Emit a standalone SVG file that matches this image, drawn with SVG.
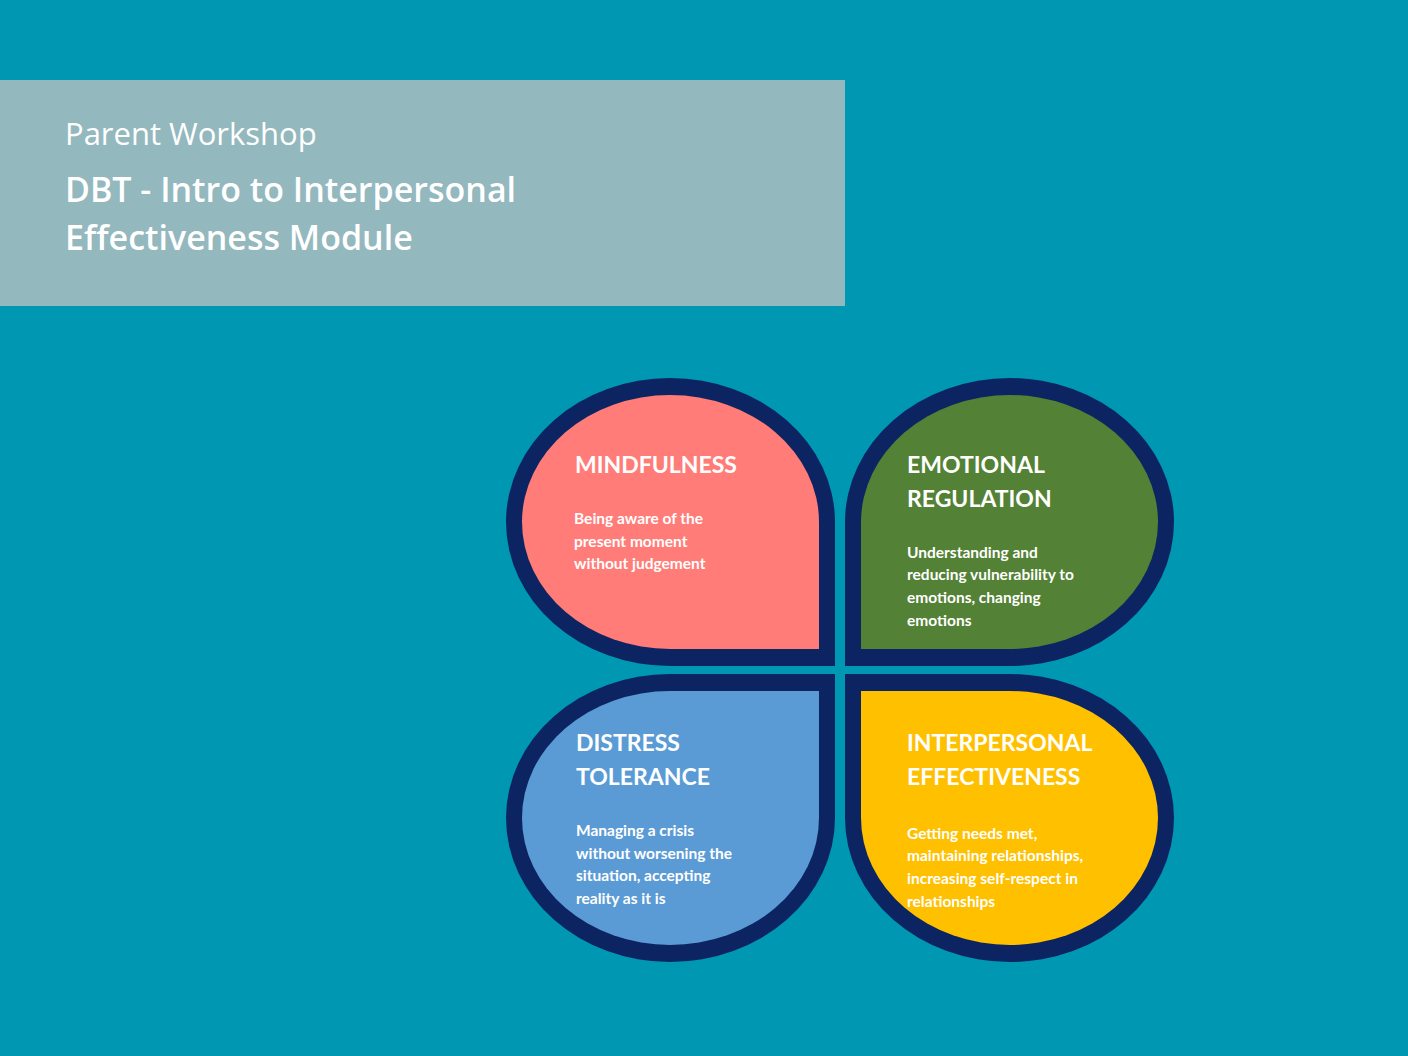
<svg xmlns="http://www.w3.org/2000/svg" width="1408" height="1056" viewBox="0 0 1408 1056">
<style>
.h{font-family:"Open Sans","Noto Sans",sans-serif;fill:#fff}
.t{font-family:Lato,"Liberation Sans",sans-serif;font-weight:bold;font-size:23px;fill:#fff}
.b{font-family:Lato,"Liberation Sans",sans-serif;font-weight:bold;font-size:15.5px;fill:#fff}
.o{fill:#0C2461}
</style>
<rect width="1408" height="1056" fill="#0097B3"/>
<g id="header">
<rect x="0" y="80" width="845" height="226" fill="#93B8BE"/>
<text class="h" x="65" y="145" font-size="31">Parent Workshop</text>
<text class="h" x="65" y="202" font-size="34" font-weight="600">DBT - Intro to Interpersonal</text>
<text class="h" x="65" y="250" font-size="34" font-weight="600">Effectiveness Module</text>
</g>
<g id="mindfulness">
<path class="o" d="M835 666H670A164 144 0 0 1 670 378A165 144 0 0 1 835 522Z"/>
<path fill="#FF7C78" d="M819 649H670A148 127 0 0 1 670 395A149 127 0 0 1 819 522Z"/>
<text class="t" x="575" y="473">MINDFULNESS</text>
<text class="b" x="574" y="524">Being aware of the</text>
<text class="b" x="574" y="547">present moment</text>
<text class="b" x="574" y="569">without judgement</text>
</g>
<g id="emotional">
<path class="o" d="M845 666H1010A164 144 0 0 0 1010 378A165 144 0 0 0 845 522Z"/>
<path fill="#538135" d="M861 649H1010A148 127 0 0 0 1010 395A149 127 0 0 0 861 522Z"/>
<text class="t" x="907" y="473">EMOTIONAL</text>
<text class="t" x="907" y="507">REGULATION</text>
<text class="b" x="907" y="558">Understanding and</text>
<text class="b" x="907" y="580">reducing vulnerability to</text>
<text class="b" x="907" y="603">emotions, changing</text>
<text class="b" x="907" y="626">emotions</text>
</g>
<g id="distress">
<path class="o" d="M835 674H670A164 144 0 0 0 670 962A165 144 0 0 0 835 818Z"/>
<path fill="#5B9BD5" d="M819 691H670A148 127 0 0 0 670 945A149 127 0 0 0 819 818Z"/>
<text class="t" x="576" y="751">DISTRESS</text>
<text class="t" x="576" y="785">TOLERANCE</text>
<text class="b" x="576" y="836">Managing a crisis</text>
<text class="b" x="576" y="859">without worsening the</text>
<text class="b" x="576" y="881">situation, accepting</text>
<text class="b" x="576" y="904">reality as it is</text>
</g>
<g id="interpersonal">
<path class="o" d="M845 674H1010A164 144 0 0 1 1010 962A165 144 0 0 1 845 818Z"/>
<path fill="#FFC000" d="M861 691H1010A148 127 0 0 1 1010 945A149 127 0 0 1 861 818Z"/>
<text class="t" x="907" y="751">INTERPERSONAL</text>
<text class="t" x="907" y="785">EFFECTIVENESS</text>
<text class="b" x="907" y="839">Getting needs met,</text>
<text class="b" x="907" y="861">maintaining relationships,</text>
<text class="b" x="907" y="884">increasing self-respect in</text>
<text class="b" x="907" y="907">relationships</text>
</g>
<g id="connectors"/>
</svg>
